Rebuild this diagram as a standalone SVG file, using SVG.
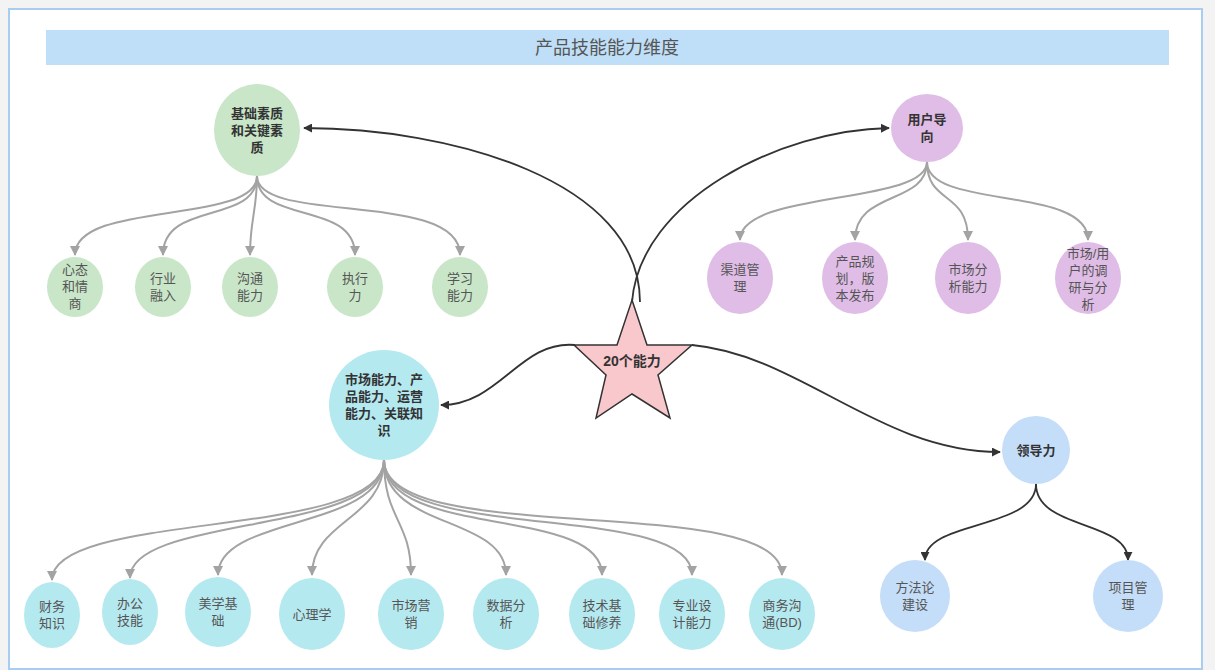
<svg xmlns="http://www.w3.org/2000/svg" width="1215" height="670" viewBox="0 0 1215 670">
<style>
text{font-family:"Liberation Sans","Noto Sans CJK SC",sans-serif;font-size:13px;fill:#555;text-anchor:middle}
.b{font-weight:bold;fill:#333}
.g{fill:#c9e6c9}.p{fill:#dfbde6}.c{fill:#b5e9f0}.l{fill:#c4ddf8}
.gc{fill:none;stroke:#a3a3a3;stroke-width:2}
.bc{fill:none;stroke:#333;stroke-width:1.8}
</style>
<defs>
<marker id="ag" viewBox="0 0 10 10" refX="9" refY="5" markerWidth="5" markerHeight="5" orient="auto"><path d="M0,0L10,5L0,10z" fill="#a3a3a3"/></marker>
<marker id="ab" viewBox="0 0 10 10" refX="9" refY="5" markerWidth="5" markerHeight="5" orient="auto"><path d="M0,0L10,5L0,10z" fill="#333"/></marker>
</defs>
<rect x="0" y="0" width="1215" height="670" fill="#f3f3f3"/>
<rect x="9" y="9" width="1193" height="660" fill="#fff" stroke="#a9cdf0" stroke-width="2"/>
<rect x="46" y="30" width="1123" height="35" fill="#bfdef7"/>
<text x="607" y="54" style="font-size:18px;fill:#555">产品技能能力维度</text>
<g id="connectors">
<path class="bc" marker-end="url(#ab)" d="M640,302 C640,180 450,128 304,128"/>
<path class="bc" marker-end="url(#ab)" d="M632,302 C640,200 780,130 889,128"/>
<path class="bc" marker-end="url(#ab)" d="M575,345 C520,340 500,405 441,405"/>
<path class="bc" marker-end="url(#ab)" d="M692,345 C800,355 880,452 1000,452"/>
<path class="gc" marker-end="url(#ag)" d="M257,176 C257,225 75,200 75,255"/>
<path class="gc" marker-end="url(#ag)" d="M257,176 C257,225 163,200 163,255"/>
<path class="gc" marker-end="url(#ag)" d="M257,176 C257,210 250,220 250,255"/>
<path class="gc" marker-end="url(#ag)" d="M257,176 C257,225 355,200 355,255"/>
<path class="gc" marker-end="url(#ag)" d="M257,176 C257,225 460,190 460,255"/>
<path class="gc" marker-end="url(#ag)" d="M927,162 C927,205 740,190 740,240"/>
<path class="gc" marker-end="url(#ag)" d="M927,162 C927,205 855,190 855,240"/>
<path class="gc" marker-end="url(#ag)" d="M927,162 C927,205 968,190 968,240"/>
<path class="gc" marker-end="url(#ag)" d="M927,162 C927,210 1088,185 1088,240"/>
<path class="gc" marker-end="url(#ag)" d="M384,460 C384,540 52,510 52,580"/>
<path class="gc" marker-end="url(#ag)" d="M384,460 C384,535 130,515 130,578"/>
<path class="gc" marker-end="url(#ag)" d="M384,460 C384,530 218,515 218,575"/>
<path class="gc" marker-end="url(#ag)" d="M384,460 C384,520 312,520 312,575"/>
<path class="gc" marker-end="url(#ag)" d="M384,460 C384,520 411,520 411,575"/>
<path class="gc" marker-end="url(#ag)" d="M384,460 C384,530 506,515 506,575"/>
<path class="gc" marker-end="url(#ag)" d="M384,460 C384,540 602,505 602,575"/>
<path class="gc" marker-end="url(#ag)" d="M384,460 C384,545 692,500 692,575"/>
<path class="gc" marker-end="url(#ag)" d="M384,460 C384,550 782,490 782,575"/>
<path class="bc" marker-end="url(#ab)" d="M1036,484 C1036,530 925,520 925,560"/>
<path class="bc" marker-end="url(#ab)" d="M1036,484 C1036,530 1128,520 1128,560"/>
</g>
<g id="star"><polygon points="632,300 647,345 692,345 658,375 670,418 632,394 596,418 606,375 574,345 617,345" fill="#f8c8cc" stroke="#333" stroke-width="1.5"/><text class="b" x="632" y="366" style="font-size:14px">20个能力</text></g>
<g id="n1"><ellipse class="g" cx="257" cy="130" rx="43" ry="46"/><text class="b" x="257" y="118">基础素质</text><text class="b" x="257" y="135">和关键素</text><text class="b" x="257" y="152">质</text></g>
<g id="n1a"><ellipse class="g" cx="75" cy="287" rx="28" ry="30"/><text x="75" y="274">心态</text><text x="75" y="291">和情</text><text x="75" y="308">商</text></g>
<g id="n1b"><ellipse class="g" cx="163" cy="287" rx="28" ry="30"/><text x="163" y="283">行业</text><text x="163" y="300">融入</text></g>
<g id="n1c"><ellipse class="g" cx="250" cy="287" rx="28" ry="30"/><text x="250" y="283">沟通</text><text x="250" y="300">能力</text></g>
<g id="n1d"><ellipse class="g" cx="355" cy="287" rx="28" ry="30"/><text x="355" y="283">执行</text><text x="355" y="300">力</text></g>
<g id="n1e"><ellipse class="g" cx="460" cy="287" rx="28" ry="30"/><text x="460" y="283">学习</text><text x="460" y="300">能力</text></g>
<g id="n2"><ellipse class="p" cx="927" cy="128" rx="36" ry="34"/><text class="b" x="927" y="124">用户导</text><text class="b" x="927" y="141">向</text></g>
<g id="n2a"><ellipse class="p" cx="740" cy="278" rx="33" ry="36"/><text x="740" y="274">渠道管</text><text x="740" y="291">理</text></g>
<g id="n2b"><ellipse class="p" cx="855" cy="278" rx="33" ry="36"/><text x="855" y="266">产品规</text><text x="855" y="283">划，版</text><text x="855" y="300">本发布</text></g>
<g id="n2c"><ellipse class="p" cx="968" cy="278" rx="33" ry="36"/><text x="968" y="274">市场分</text><text x="968" y="291">析能力</text></g>
<g id="n2d"><ellipse class="p" cx="1088" cy="278" rx="33" ry="36"/><text x="1088" y="258">市场/用</text><text x="1088" y="275">户的调</text><text x="1088" y="292">研与分</text><text x="1088" y="309">析</text></g>
<g id="n3"><ellipse class="c" cx="384" cy="405" rx="55" ry="55"/><text class="b" x="384" y="384">市场能力、产</text><text class="b" x="384" y="401">品能力、运营</text><text class="b" x="384" y="418">能力、关联知</text><text class="b" x="384" y="435">识</text></g>
<g id="n3a"><ellipse class="c" cx="52" cy="615" rx="28" ry="33"/><text x="52" y="611">财务</text><text x="52" y="628">知识</text></g>
<g id="n3b"><ellipse class="c" cx="130" cy="612" rx="28" ry="33"/><text x="130" y="608">办公</text><text x="130" y="625">技能</text></g>
<g id="n3c"><ellipse class="c" cx="218" cy="612" rx="33" ry="35"/><text x="218" y="608">美学基</text><text x="218" y="625">础</text></g>
<g id="n3d"><ellipse class="c" cx="312" cy="614" rx="33" ry="36"/><text x="312" y="619">心理学</text></g>
<g id="n3e"><ellipse class="c" cx="411" cy="614" rx="33" ry="36"/><text x="411" y="610">市场营</text><text x="411" y="627">销</text></g>
<g id="n3f"><ellipse class="c" cx="506" cy="614" rx="33" ry="36"/><text x="506" y="610">数据分</text><text x="506" y="627">析</text></g>
<g id="n3g"><ellipse class="c" cx="602" cy="614" rx="33" ry="36"/><text x="602" y="610">技术基</text><text x="602" y="627">础修养</text></g>
<g id="n3h"><ellipse class="c" cx="692" cy="614" rx="33" ry="36"/><text x="692" y="610">专业设</text><text x="692" y="627">计能力</text></g>
<g id="n3i"><ellipse class="c" cx="782" cy="614" rx="33" ry="36"/><text x="782" y="610">商务沟</text><text x="782" y="627">通(BD)</text></g>
<g id="n4"><ellipse class="l" cx="1036" cy="450" rx="34" ry="34"/><text class="b" x="1036" y="455">领导力</text></g>
<g id="n4a"><ellipse class="l" cx="915" cy="596" rx="35" ry="36"/><text x="915" y="592">方法论</text><text x="915" y="609">建设</text></g>
<g id="n4b"><ellipse class="l" cx="1128" cy="596" rx="35" ry="36"/><text x="1128" y="592">项目管</text><text x="1128" y="609">理</text></g>
</svg>
